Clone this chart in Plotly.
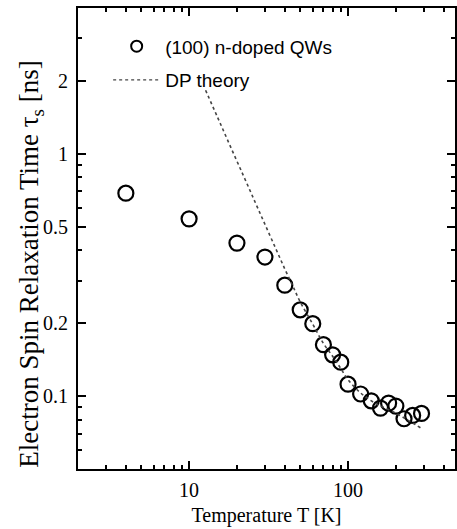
import plotly.graph_objects as go
import numpy as np

# Measured data: (100) n-doped QWs
temp_K = [4, 10, 20, 30, 40, 50, 60, 70, 80, 90, 100, 120, 140, 160, 180, 200, 225, 255, 290]
tau_ns = [0.688, 0.539, 0.428, 0.375, 0.287, 0.227, 0.199, 0.163, 0.148, 0.138, 0.112,
          0.102, 0.0956, 0.0892, 0.0935, 0.0909, 0.0806, 0.0832, 0.0848]

# DP theory curve
dp_T = [12.7, 15, 18, 22, 26, 30, 35, 40, 45, 50, 60, 70, 80, 90, 100, 120, 150, 200, 250, 290]
dp_tau = [1.83, 1.43, 1.09, 0.811, 0.633, 0.512, 0.408, 0.335, 0.284, 0.245, 0.198, 0.165,
          0.146, 0.130, 0.117, 0.103, 0.093, 0.085, 0.078, 0.0735]

x_major = [10, 100]
x_major_text = ["10", "100"]
x_minor = [3, 4, 5, 6, 7, 8, 9, 20, 30, 40, 50, 60, 70, 80, 90, 200, 300, 400]
y_major = [0.1, 0.2, 0.5, 1, 2]
y_major_text = ["0.1", "0.2", "0.5", "1", "2"]
y_minor = [0.06, 0.07, 0.08, 0.09, 0.3, 0.4, 0.6, 0.7, 0.8, 0.9, 3]

serif = "Liberation Serif, Times New Roman, serif"
sans = "Liberation Sans, Arial, sans-serif"

data_marker = dict(symbol="circle-open", size=15, color="black", line=dict(width=2.2, color="black"))
dp_line = dict(color="#444444", width=1.6, dash="dot", shape="spline")

fig = go.Figure()
fig.add_trace(go.Scatter(
    x=temp_K, y=tau_ns, mode="markers", name="(100) n-doped QWs",
    showlegend=False, marker=data_marker,
))
fig.add_trace(go.Scatter(
    x=dp_T, y=dp_tau, mode="lines", name="DP theory", showlegend=False,
    line=dp_line,
))
# legend entries (smaller legend symbol than data markers)
fig.add_trace(go.Scatter(
    x=[None], y=[None], mode="markers", name="(100) n-doped QWs", legendgroup="a",
    marker=dict(symbol="circle-open", size=11, color="black", line=dict(width=2, color="black")),
))
fig.add_trace(go.Scatter(
    x=[None], y=[None], mode="lines", name="DP theory", legendgroup="b",
    line=dict(color="#444444", width=1.4, dash="dot"),
))

axis_common = dict(
    type="log", showline=True, linecolor="black", linewidth=1.8, mirror="ticks",
    ticks="inside", ticklen=8, tickwidth=1.5, tickcolor="black", showgrid=False,
    zeroline=False, tickfont=dict(family=serif, size=20, color="black"),
)

fig.update_xaxes(
    **axis_common,
    range=[np.log10(2), 2.673],
    tickmode="array", tickvals=x_major, ticktext=x_major_text,
    minor=dict(tickmode="array", tickvals=x_minor, ticks="inside", ticklen=4, tickwidth=1.5, tickcolor="black"),
    title=dict(text="Temperature T [K]", font=dict(family=serif, size=20, color="black"), standoff=8),
    ticklabelstandoff=2,
)
fig.update_yaxes(
    **axis_common,
    range=[np.log10(0.05), np.log10(4)],
    tickmode="array", tickvals=y_major, ticktext=y_major_text,
    minor=dict(tickmode="array", tickvals=y_minor, ticks="inside", ticklen=4, tickwidth=1.5, tickcolor="black"),
    ticklabelstandoff=4,
)

fig.add_annotation(
    text="Electron Spin Relaxation Time τ<sub>s</sub> [ns]",
    xref="paper", yref="paper", x=-0.125, y=0.445, textangle=-90,
    showarrow=False, font=dict(family=serif, size=27, color="black"),
    xanchor="center", yanchor="middle",
)

fig.update_layout(
    width=457, height=529,
    margin=dict(l=78, r=0, t=8, b=60),
    paper_bgcolor="white", plot_bgcolor="white",
    showlegend=True,
    legend=dict(x=0.08, y=0.958, xanchor="left", yanchor="top", bgcolor="rgba(0,0,0,0)",
                font=dict(family=sans, size=19, color="black"), tracegroupgap=6,
                itemwidth=47),
)

fig.write_html("out.html")
